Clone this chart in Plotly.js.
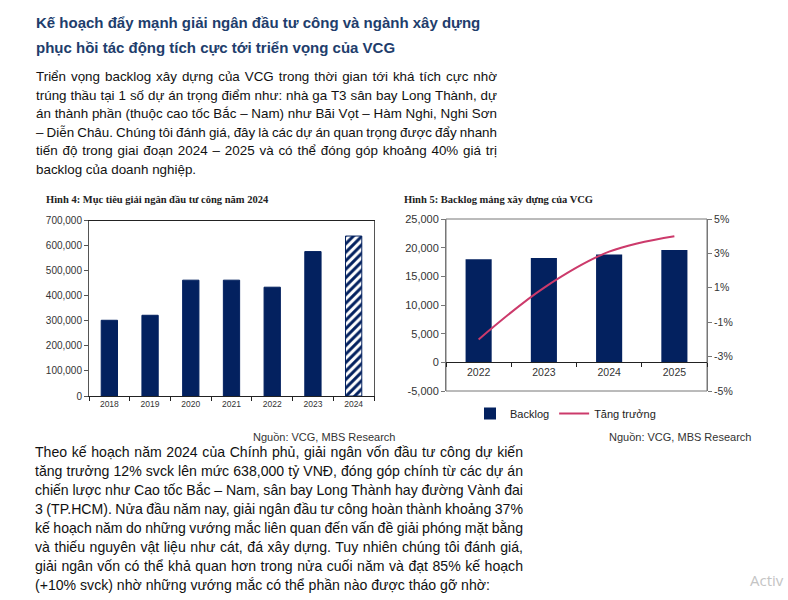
<!DOCTYPE html>
<html>
<head>
<meta charset="utf-8">
<script src="https://cdn.plot.ly/plotly-3.0.1.min.js"></script>
<style>
  html, body { margin: 0; padding: 0; background: #fff; }
  body { width: 788px; height: 600px; position: relative; overflow: hidden; font-family: "Liberation Sans", Arial, sans-serif; }
  #chart { position: absolute; left: 0; top: 0; width: 788px; height: 600px; }
  .block { position: absolute; color: #111; }
  .ln { white-space: nowrap; }
  .ln span { display: inline-block; white-space: nowrap; }
  #heading { left: 36px; top: 10px; font-size: 15px; line-height: 25px; font-weight: bold; color: #213d6c; }
  #para1 { left: 36px; top: 68px; width: 461px; font-size: 13.4px; line-height: 18.6px; }
  #para2 { left: 35px; top: 443px; width: 488px; font-size: 14.1px; line-height: 19px; }
  #watermark { position: absolute; left: 750px; top: 573px; font-family: "Open Sans", sans-serif; font-size: 15px; line-height: 15px; color: #c4c4c4; white-space: nowrap; }
</style>
</head>
<body>
<div id="chart"></div>

<div id="heading" class="block">
  <div>Kế hoạch đẩy mạnh giải ngân đầu tư công và ngành xây dựng</div>
  <div>phục hồi tác động tích cực tới triển vọng của VCG</div>
</div>

<div id="para1" class="block">
  <div class="ln"><span>Triển vọng backlog xây dựng của VCG trong thời gian tới khá tích cực nhờ</span></div>
  <div class="ln"><span>trúng thầu tại 1 số dự án trọng điểm như: nhà ga T3 sân bay Long Thành, dự</span></div>
  <div class="ln"><span>án thành phần (thuộc cao tốc Bắc – Nam) như Bãi Vọt – Hàm Nghi, Nghi Sơn</span></div>
  <div class="ln"><span>– Diễn Châu. Chúng tôi đánh giá, đây là các dự án quan trọng được đẩy nhanh</span></div>
  <div class="ln"><span>tiến độ trong giai đoạn 2024 – 2025 và có thể đóng góp khoảng 40% giá trị</span></div>
  <div class="ln last"><span>backlog của doanh nghiệp.</span></div>
</div>

<div id="para2" class="block">
  <div class="ln"><span>Theo kế hoạch năm 2024 của Chính phủ, giải ngân vốn đầu tư công dự kiến</span></div>
  <div class="ln"><span>tăng trưởng 12% svck lên mức 638,000 tỷ VNĐ, đóng góp chính từ các dự án</span></div>
  <div class="ln"><span>chiến lược như Cao tốc Bắc – Nam, sân bay Long Thành hay đường Vành đai</span></div>
  <div class="ln"><span>3 (TP.HCM). Nửa đầu năm nay, giải ngân đầu tư công hoàn thành khoảng 37%</span></div>
  <div class="ln"><span>kế hoạch năm do những vướng mắc liên quan đến vấn đề giải phóng mặt bằng</span></div>
  <div class="ln"><span>và thiếu nguyên vật liệu như cát, đá xây dựng. Tuy nhiên chúng tôi đánh giá,</span></div>
  <div class="ln"><span>giải ngân vốn có thể khả quan hơn trong nửa cuối năm và đạt 85% kế hoạch</span></div>
  <div class="ln last"><span>(+10% svck) nhờ những vướng mắc có thể phần nào được tháo gỡ nhờ:</span></div>
</div>

<div id="watermark">Activ</div>

<script>
// Hình 4 - giải ngân đầu tư công (tỷ VNĐ)
const years1 = ['2018', '2019', '2020', '2021', '2022', '2023', '2024'];
const disbursement = [302000, 322000, 462000, 462000, 434000, 576000, 638000];
const planYear = '2024';
const ticks1 = [0, 100000, 200000, 300000, 400000, 500000, 600000, 700000];

// Hình 5 - backlog xây dựng
const years2 = ['2022', '2023', '2024', '2025'];
const backlog = [18000, 18200, 18800, 19600];
const growth = [-0.020, 0.010, 0.031, 0.040];
const ticks2 = [-5000, 0, 5000, 10000, 15000, 20000, 25000];
const ticks3 = [-0.05, -0.03, -0.01, 0.01, 0.03, 0.05];

const NAVY = '#03215f';
const PINK = '#cc3a6b';
const W = 788, H = 600;
const px = x => x / W;
const py = y => 1 - y / H;

const range1 = [0, 700000];
const range2 = [-5000, 25000];
const range3 = [-0.05, 0.05];
const dom1y = [py(396), py(220.5)];
const dom2y = [py(391), py(219)];
// vị trí trục x của hình 5 nằm tại giá trị 0
const zeroPos = dom2y[0] + (0 - range2[0]) / (range2[1] - range2[0]) * (dom2y[1] - dom2y[0]);

const tickFont = { family: 'Liberation Sans, Arial, sans-serif', color: '#333' };
const titleFont = { family: 'Liberation Serif, Times New Roman, serif', size: 10.5, color: '#222' };

const traces = [
    {
        x: years1, y: disbursement, type: 'bar', xaxis: 'x', yaxis: 'y',
        width: 0.4, showlegend: false,
        marker: {
            color: NAVY,
            line: { color: NAVY, width: 1 },
            pattern: { shape: years1.map(y => y === planYear ? '/' : ''), size: 6, solidity: 0.5, fillmode: 'replace' }
        }
    },
    {
        x: years2, y: backlog, type: 'bar', name: 'Backlog', xaxis: 'x2', yaxis: 'y2',
        width: 0.4, marker: { color: NAVY }
    },
    {
        x: years2, y: growth, type: 'scatter', mode: 'lines', name: 'Tăng trưởng',
        xaxis: 'x2', yaxis: 'y3',
        line: { color: PINK, width: 2, shape: 'spline', smoothing: 1 }
    }
];

const layout = {
    width: W, height: H, autosize: false,
    margin: { t: 0, r: 0, b: 0, l: 0 },
    paper_bgcolor: 'rgba(0,0,0,0)', plot_bgcolor: 'rgba(0,0,0,0)',
    font: { family: 'Liberation Sans, Arial, sans-serif', color: '#222' },
    showlegend: true,
    legend: {
        orientation: 'h', x: px(470), y: py(399), xanchor: 'left', yanchor: 'top',
        font: { size: 11, color: '#222' }, bgcolor: 'rgba(0,0,0,0)', itemwidth: 30
    },
    xaxis: {
        domain: [px(89), px(374)], anchor: 'y', type: 'category',
        showline: true, linecolor: '#222', linewidth: 1, mirror: true,
        ticks: 'outside', tickson: 'boundaries', ticklen: 4, tickcolor: '#222',
        tickfont: Object.assign({ size: 8.5 }, tickFont), showgrid: false
    },
    yaxis: {
        domain: dom1y, anchor: 'x', range: range1,
        tickmode: 'array', tickvals: ticks1, tickformat: ',d',
        showline: true, linecolor: '#555', linewidth: 1, mirror: true,
        ticks: 'outside', ticklen: 4, tickcolor: '#555',
        tickfont: Object.assign({ size: 10 }, tickFont), showgrid: false, zeroline: false
    },
    xaxis2: {
        domain: [px(446), px(707)], anchor: 'free', position: zeroPos, type: 'category',
        showline: true, linecolor: '#222', linewidth: 1,
        ticks: 'outside', tickson: 'boundaries', ticklen: 4, tickcolor: '#222',
        tickfont: Object.assign({ size: 10.5 }, tickFont), showgrid: false
    },
    yaxis2: {
        domain: dom2y, anchor: 'x2', range: range2,
        tickmode: 'array', tickvals: ticks2, ticktext: ticks2.map(v => v.toLocaleString('en-US')),
        showline: true, linecolor: '#777', linewidth: 1,
        ticks: 'outside', ticklen: 4, tickcolor: '#777',
        tickfont: Object.assign({ size: 11 }, tickFont), showgrid: false, zeroline: false
    },
    yaxis3: {
        overlaying: 'y2', side: 'right', anchor: 'x2', range: range3,
        tickmode: 'array', tickvals: ticks3, ticktext: ticks3.map(v => Math.round(v * 100) + '%'),
        showline: true, linecolor: '#777', linewidth: 1,
        ticks: 'outside', ticklen: 4, tickcolor: '#777',
        tickfont: Object.assign({ size: 10.5 }, tickFont), showgrid: false, zeroline: false
    },
    shapes: [
        { type: 'rect', xref: 'x2 domain', yref: 'y2 domain', x0: 0, x1: 1, y0: 0, y1: 1,
          line: { color: '#777', width: 1 }, layer: 'below' }
    ],
    annotations: [
        { text: '<b>Hình 4: Mục tiêu giải ngân đầu tư công năm 2024</b>', xref: 'paper', yref: 'paper',
          x: px(44), y: py(199), xanchor: 'left', yanchor: 'middle', showarrow: false, font: titleFont },
        { text: '<b>Hình 5: Backlog mảng xây dựng của VCG</b>', xref: 'paper', yref: 'paper',
          x: px(402), y: py(199), xanchor: 'left', yanchor: 'middle', showarrow: false, font: titleFont },
        { text: 'Nguồn: VCG, MBS Research', xref: 'paper', yref: 'paper',
          x: px(251), y: py(437), xanchor: 'left', yanchor: 'middle', showarrow: false,
          font: { size: 11, color: '#333' } },
        { text: 'Nguồn: VCG, MBS Research', xref: 'paper', yref: 'paper',
          x: px(607), y: py(437), xanchor: 'left', yanchor: 'middle', showarrow: false,
          font: { size: 11, color: '#333' } }
    ]
};

Plotly.newPlot('chart', traces, layout, { staticPlot: true, displayModeBar: false });

// canh đều hai bên cho từng dòng văn bản
function justify(id, width) {
    document.querySelectorAll('#' + id + ' .ln').forEach(el => {
        if (el.classList.contains('last')) return;
        const span = el.querySelector('span');
        span.style.wordSpacing = '0px';
        const w = span.getBoundingClientRect().width;
        const spaces = (span.textContent.match(/ /g) || []).length;
        if (spaces) span.style.wordSpacing = ((width - w) / spaces) + 'px';
    });
}

function justifyAll() {
    justify('para1', 461);
    justify('para2', 488);
}
justifyAll();
if (document.fonts && document.fonts.ready) document.fonts.ready.then(justifyAll);
</script>
</body>
</html>
